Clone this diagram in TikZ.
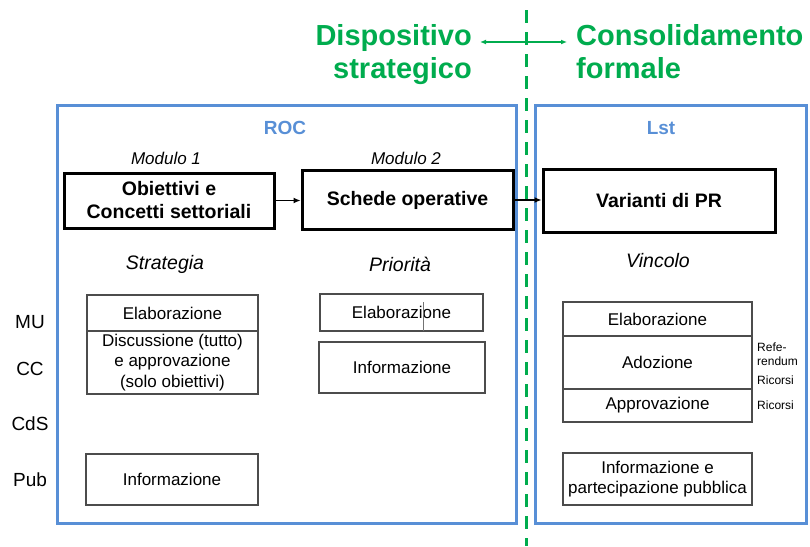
\documentclass[tikz,border=0pt]{standalone}
\usepackage{fontspec}
\setmainfont{Liberation Sans}
\usetikzlibrary{arrows.meta}
\definecolor{tgreen}{RGB}{0,172,78}
\definecolor{tblue}{RGB}{88,143,214}
\begin{document}
\begin{tikzpicture}[x=1pt,y=-1pt,
  title/.style={text=tgreen, font=\fontsize{29}{33}\selectfont\bfseries, inner sep=0},
  panel/.style={draw=tblue, line width=3pt, inner sep=0},
  paneltitle/.style={text=tblue, font=\fontsize{19}{22}\selectfont\bfseries, inner sep=0},
  modbox/.style={draw=black, line width=3pt, font=\fontsize{19.5}{23}\selectfont\bfseries, align=center, inner sep=0},
  cell/.style={draw=black!70, line width=1.1pt, font=\fontsize{17}{20.5}\selectfont, align=center, inner sep=0},
  modlbl/.style={font=\fontsize{17}{20}\selectfont\itshape, inner sep=0},
  collbl/.style={font=\fontsize{19.5}{22}\selectfont\itshape, inner sep=0},
  rowlbl/.style={font=\fontsize{19}{22}\selectfont, inner sep=0},
  side/.style={font=\fontsize{12}{14}\selectfont, anchor=west, inner sep=0},
  flow/.style={line width=1.2pt, -{Latex[length=7pt,width=6pt]}}
]
\useasboundingbox (0,0) rectangle (810,546);

% green divider and titles
\coordinate (gtop) at (526,10);
\coordinate (gbot) at (526,546);
\draw[tgreen, line width=3pt, dash pattern=on 13pt off 9pt] (gtop) -- (gbot);
\node[title, anchor=base east] (disp) at (472,45) {Dispositivo};
\node[title, anchor=base east] (strat) at (472,78) {strategico};
\node[title, anchor=base west] (cons) at (576,45) {Consolidamento};
\node[title, anchor=base west] (form) at (576,78) {formale};
\coordinate (al) at (480,42);
\coordinate (ar) at (567,42);
\draw[tgreen, line width=1.2pt, {Latex[length=6pt,width=5pt]}-{Latex[length=6pt,width=5pt]}] (al) -- (ar);

% panels
\node[panel, minimum width=459pt, minimum height=418pt] (roc) at (286.5,314) {};
\node[panel, minimum width=271pt, minimum height=418pt] (lst) at (670.5,314) {};
\node[paneltitle] (roct) at (285,128) {ROC};
\node[paneltitle] (lstt) at (661,128) {Lst};

% modules
\node[modlbl] (m1) at (166,158) {Modulo 1};
\node[modlbl] (m2) at (406,158) {Modulo 2};
\node[modbox, minimum width=210pt, minimum height=55pt] (obj) at (169,200.5) {Obiettivi e\\Concetti settoriali};
\node[modbox, minimum width=211pt, minimum height=59pt] (sch) at (407.5,200) {Schede operative};
\node[modbox, minimum width=232pt, minimum height=63pt] (var) at (659,200.5) {Varianti di PR};
\draw[flow] (obj.east) -- (obj.east -| sch.west);
\draw[flow] (sch.east) -- (sch.east -| var.west);

% column labels
\node[collbl] (strg) at (165,264) {Strategia};
\node[collbl] (prio) at (400,264) {Priorità};
\node[collbl] (vinc) at (658,261) {Vincolo};

% row labels
\node[rowlbl] (mu) at (30,322) {MU};
\node[rowlbl] (cc) at (30,369) {CC};
\node[rowlbl] (cds) at (30,424) {CdS};
\node[rowlbl] (pub) at (30,480) {Pub};

% column 1
\node[cell, minimum width=171pt, minimum height=36pt] (e1) at (172.5,313) {Elaborazione};
\node[cell, minimum width=171pt, minimum height=63pt] (d1) at (172.5,362.5) {Discussione (tutto)\\e approvazione\\(solo obiettivi)};
\node[cell, minimum width=172pt, minimum height=51pt] (i1) at (172,479.5) {Informazione};

% column 2
\node[cell, minimum width=163pt, minimum height=37pt] (e2) at (401.5,312.5) {Elaborazione};
\draw[black!55, line width=1pt] (423,302) -- (423,331);
\node[cell, minimum width=166pt, minimum height=51pt] (i2) at (402,367.5) {Informazione};

% column 3
\node[cell, minimum width=189pt, minimum height=34pt] (e3) at (657.5,319) {Elaborazione};
\node[cell, minimum width=189pt, minimum height=53pt] (a3) at (657.5,362.5) {Adozione};
\node[cell, minimum width=189pt, minimum height=33pt] (p3) at (657.5,405.5) {Approvazione};
\node[cell, minimum width=189pt, minimum height=52pt] (ip3) at (657.5,479) {Informazione e\\partecipazione pubblica};

% side notes
\node[side] (ref1) at (757,347) {Refe-};
\node[side] (ref2) at (757,361) {rendum};
\node[side] (ric1) at (757,380) {Ricorsi};
\node[side] (ric2) at (757,405) {Ricorsi};
\end{tikzpicture}
\end{document}
